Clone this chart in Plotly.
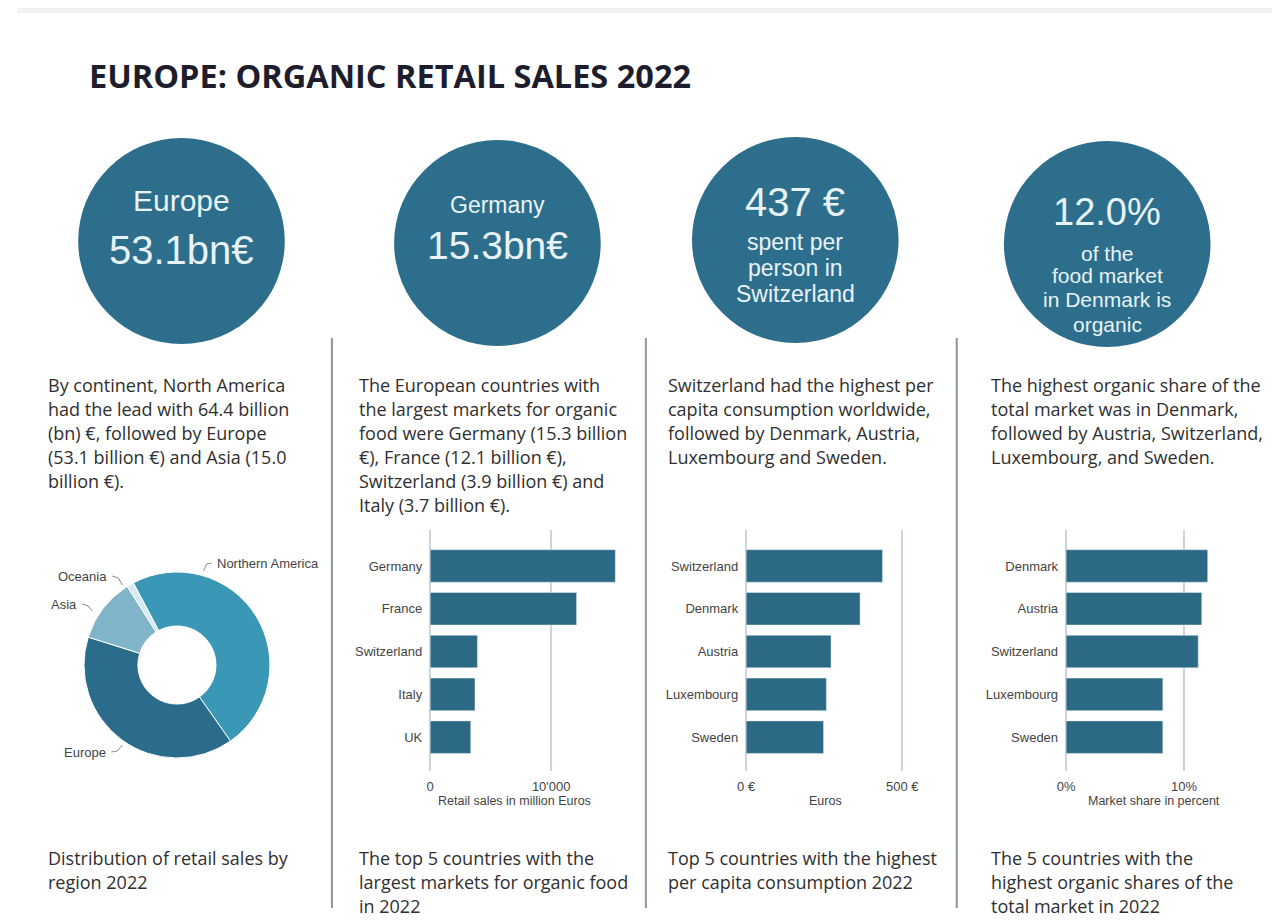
import plotly.graph_objects as go

# the page adds a body margin, so the figure is drawn a bit smaller
OFF = 8
W, H = 1280 - OFF, 921 - OFF

# data
regions = ["Northern America", "Europe", "Asia", "Oceania"]
region_sales = [64.4, 53.1, 15.0, 1.6]
region_colors = ["#3a97b6", "#2b6c8b", "#7fb4c9", "#d7e9f0"]

market_countries = ["Germany", "France", "Switzerland", "Italy", "UK"]
market_sales = [15300, 12100, 3900, 3700, 3350]

capita_countries = ["Switzerland", "Denmark", "Austria", "Luxembourg", "Sweden"]
capita_spend = [437, 365, 272, 257, 248]

share_countries = ["Denmark", "Austria", "Switzerland", "Luxembourg", "Sweden"]
share_percent = [12.0, 11.5, 11.2, 8.2, 8.2]

title = "EUROPE: ORGANIC RETAIL SALES 2022"

circle_texts = [
    [("Europe", 30, 200), ("53.1bn€", 40, 250)],
    [("Germany", 23, 205), ("15.3bn€", 39, 245)],
    [("437 €", 40, 202), ("spent per", 23, 242), ("person in", 23, 268), ("Switzerland", 23, 294)],
    [("12.0%", 38, 212), ("of the", 21, 253), ("food market", 21, 276), ("in Denmark is", 21, 299), ("organic", 21, 324)],
]
circle_centers = [(180, 241), (495, 243), (792, 240), (1103, 244)]

paragraphs = [
    ["By continent, North America", "had the lead with 64.4 billion", "(bn) €, followed by Europe",
     "(53.1 billion €) and Asia (15.0", "billion €)."],
    ["The European countries with", "the largest markets for organic", "food were Germany (15.3 billion",
     "€), France (12.1 billion €),", "Switzerland (3.9 billion €) and", "Italy (3.7 billion €)."],
    ["Switzerland had the highest per", "capita consumption worldwide,", "followed by Denmark, Austria,",
     "Luxembourg and Sweden."],
    ["The highest organic share of the", "total market was in Denmark,", "followed by Austria, Switzerland,",
     "Luxembourg, and Sweden."],
]
captions = [
    ["Distribution of retail sales by", "region 2022"],
    ["The top 5 countries with the", "largest markets for organic food", "in 2022"],
    ["Top 5 countries with the highest", "per capita consumption 2022"],
    ["The 5 countries with the", "highest organic shares of the", "total market in 2022"],
]
col_x = [45, 355, 663, 985]

CIRCLE = "#2d6e8c"
BAR = "#2b6985"
GRID = "#c9d4db"
TXT = "#2f2f2f"
SMALL = "#444444"


def px(x):
    # horizontal placement measured from earlier renders
    return (x - 16) / 0.99 / W


def py(y):
    return 1 - (y - OFF) / H


fig = go.Figure()

# donut
fig.add_trace(go.Pie(
    labels=regions, values=region_sales, hole=0.42, sort=False,
    direction="clockwise", rotation=-28, textinfo="none",
    marker=dict(colors=region_colors, line=dict(color="white", width=1)),
    domain=dict(x=[px(82), px(269)], y=[py(758), py(572)]),
    showlegend=False,
))

# three bar charts
bars = [
    (market_countries, market_sales, "x", "y"),
    (capita_countries, capita_spend, "x2", "y2"),
    (share_countries, share_percent, "x3", "y3"),
]
for cats, vals, xa, ya in bars:
    fig.add_trace(go.Bar(x=vals, y=cats, orientation="h", marker_color=BAR,
                         width=0.76, xaxis=xa, yaxis=ya, showlegend=False))

small_font = dict(family="Liberation Sans, Arial", size=13, color=SMALL)
title_font = dict(family="Liberation Sans, Arial", size=12.5, color=SMALL)


def xax(x0, rng, tv, tt, anchor):
    return dict(domain=[px(x0), px(x0 + 200)], range=rng, tickvals=tv, ticktext=tt,
                showgrid=True, gridcolor=GRID, gridwidth=1.5, zeroline=True,
                zerolinecolor=GRID, zerolinewidth=1.5, showline=False, anchor=anchor,
                ticks="outside", ticklen=3, tickcolor="rgba(0,0,0,0)", tickfont=small_font,
                fixedrange=True)


def yax(anchor):
    return dict(domain=[py(771), py(530)], range=[4.79, -0.84], anchor=anchor,
                showgrid=False, zeroline=False, showline=False, ticks="",
                ticklabelstandoff=7, tickfont=small_font, fixedrange=True)


fig.update_layout(
    xaxis=xax(428, [0, 16580], [0, 10000], ["0", "10'000"], "y"),
    yaxis=yax("x"),
    xaxis2=xax(743, [0, 642.7], [0, 500], ["0 €", "500 €"], "y2"),
    yaxis2=yax("x2"),
    xaxis3=xax(1062, [0, 17.0], [0, 10], ["0%", "10%"], "y3"),
    yaxis3=yax("x3"),
)

shapes = []
ann = []

# top grey strip
shapes.append(dict(type="rect", xref="paper", yref="paper", x0=0, x1=1, y0=py(13), y1=1,
                   fillcolor="#f1f1f1", line=dict(width=0), layer="below"))

# column dividers
for x in [330, 643, 953]:
    shapes.append(dict(type="line", xref="paper", yref="paper", x0=px(x), x1=px(x),
                       y0=py(338), y1=py(908), line=dict(color="#8c949c", width=2)))

# circles with key figures
for (cx, cy), lines in zip(circle_centers, circle_texts):
    r = 103
    shapes.append(dict(type="circle", xref="paper", yref="paper", x0=px(cx - r), x1=px(cx + r),
                       y0=py(cy + r), y1=py(cy - r), fillcolor=CIRCLE, line=dict(width=0),
                       layer="below"))
    for txt, size, y in lines:
        ann.append(dict(text=txt, x=px(cx), y=py(y), xref="paper", yref="paper",
                        xanchor="center", yanchor="middle", showarrow=False,
                        font=dict(family="Liberation Sans, Arial", size=size, color="#e8f3f7")))

# title
ann.append(dict(text="<b>" + title + "</b>", x=px(86), y=py(75), xref="paper", yref="paper",
                xanchor="left", yanchor="middle", showarrow=False,
                font=dict(family="Open Sans", size=32.5, color="#1d1d2c")))

# paragraphs and captions
body_font = dict(family="Open Sans", size=18, color=TXT)
for x, para, cap in zip(col_x, paragraphs, captions):
    for i, line in enumerate(para):
        ann.append(dict(text=line, x=px(x), y=py(385 + 24 * i), xref="paper", yref="paper",
                        xanchor="left", yanchor="middle", showarrow=False, font=body_font))
    for i, line in enumerate(cap):
        ann.append(dict(text=line, x=px(x), y=py(858 + 24 * i), xref="paper", yref="paper",
                        xanchor="left", yanchor="middle", showarrow=False, font=body_font))

# axis titles
for txt, x in [("Retail sales in million Euros", 512), ("Euros", 822), ("Market share in percent", 1150)]:
    ann.append(dict(text=txt, x=px(x), y=py(801), xref="paper", yref="paper",
                    xanchor="center", yanchor="middle", showarrow=False, font=title_font))

# donut labels with short leader lines
donut_labels = [
    ("Northern America", 213, 563, "left", "M 210 563 L 205 564 L 202 571"),
    ("Oceania", 108, 576, "right", "M 111 576 L 117 578 L 121 585"),
    ("Asia", 78, 604, "right", "M 81 604 L 87 606 L 91 611"),
    ("Europe", 107, 752, "right", "M 110 752 L 116 751 L 121 745"),
]
for txt, x, y, anchor, path in donut_labels:
    ann.append(dict(text=txt, x=px(x), y=py(y), xref="paper", yref="paper",
                    xanchor=anchor, yanchor="middle", showarrow=False,
                    font=dict(family="Liberation Sans, Arial", size=13, color=SMALL)))
    pts = path.replace("M", "").split("L")
    p = []
    for k, pt in enumerate(pts):
        a, b = pt.split()
        p.append(("M " if k == 0 else "L ") + f"{px(float(a))} {py(float(b))}")
    shapes.append(dict(type="path", xref="paper", yref="paper", path=" ".join(p),
                       line=dict(color="#888888", width=1)))

fig.update_layout(
    width=W, height=H, margin=dict(l=0, r=0, t=0, b=0),
    paper_bgcolor="white", plot_bgcolor="white",
    shapes=shapes, annotations=ann, bargap=0.24,
)

fig.write_html("out.html")
